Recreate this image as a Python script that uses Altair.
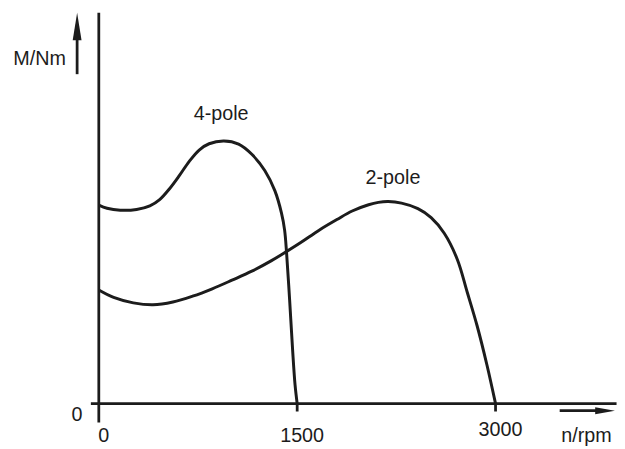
import altair as alt
import pandas as pd

# ---- data ----
rpm_4pole = [0, 62, 162, 286, 386, 460, 535, 610, 684, 759, 834, 946, 1057, 1157, 1256, 1331, 1381, 1405, 1420, 1443, 1465, 1484, 1500]
M_4pole = [50.8, 50.0, 49.5, 49.7, 50.6, 52.2, 55.0, 58.4, 62.0, 64.9, 66.5, 67.2, 66.4, 63.8, 59.6, 54.5, 48.8, 44.4, 38.5, 26.5, 14.0, 4.8, 0.0]

rpm_2pole = [0, 112, 261, 410, 560, 709, 858, 1007, 1157, 1306, 1418, 1530, 1666, 1800, 1916, 2040, 2114, 2189, 2289, 2413, 2513, 2612, 2711, 2786, 2860, 2935, 3000]
M_2pole = [29.1, 27.2, 25.8, 25.3, 26.0, 27.5, 29.4, 31.6, 33.9, 36.6, 38.9, 41.3, 44.4, 47.1, 49.3, 50.9, 51.5, 51.7, 51.3, 49.9, 47.6, 43.6, 36.9, 28.5, 20.0, 9.9, 0.0]

x_ticks = [0, 1500, 3000]
x_tick_labels = ["0", "1500", "3000"]
y_ticks = [0]
y_tick_labels = ["0"]

series_names = ["4-pole", "2-pole"]
series_label_rpm = [925, 2224]
series_label_M = [74.0, 57.6]

X_MAX = 3896
Y_MAX = 100
INK = "#1c1c1c"
FONT = "Liberation Sans"
FS = 20

curves = pd.concat([
    pd.DataFrame({"rpm": rpm_4pole, "M": M_4pole, "series": "4-pole"}),
    pd.DataFrame({"rpm": rpm_2pole, "M": M_2pole, "series": "2-pole"}),
])

xs = alt.Scale(domain=[0, X_MAX], nice=False, zero=False)
ys = alt.Scale(domain=[0, Y_MAX], nice=False, zero=False)

lines = alt.Chart(curves).mark_line(interpolate="catmull-rom", strokeWidth=3, color=INK).encode(
    x=alt.X("rpm:Q", scale=xs, axis=None),
    y=alt.Y("M:Q", scale=ys, axis=None),
    detail="series:N",
)

# axis lines (y-axis, x-axis), tick marks and arrow shafts
axes_df = pd.DataFrame({
    "x1": [0, -60, 1500, 3000, -164, 3485],
    "x2": [0, 3915, 1500, 3000, -164, 3769],
    "y1": [-4.8, 0, 0, 0, 84.3, -1.8],
    "y2": [Y_MAX, 0, -2.0, -2.0, 93.4, -1.8],
})
axes = alt.Chart(axes_df).mark_rule(strokeWidth=2.8, color=INK).encode(
    x=alt.X("x1:Q", scale=xs, axis=None),
    x2="x2:Q",
    y=alt.Y("y1:Q", scale=ys, axis=None),
    y2="y2:Q",
)

up_head = alt.Chart(pd.DataFrame({"x": [-164], "y": [96.5]})).mark_point(
    shape="M0,-1L0.32,1L-0.32,1Z", filled=True, size=784, color=INK, opacity=1, strokeWidth=0
).encode(x=alt.X("x:Q", scale=xs, axis=None), y=alt.Y("y:Q", scale=ys, axis=None))

right_head = alt.Chart(pd.DataFrame({"x": [3828], "y": [-1.8]})).mark_point(
    shape="M1,0L-1,-0.35L-1,0.35Z", filled=True, size=400, color=INK, opacity=1, strokeWidth=0
).encode(x=alt.X("x:Q", scale=xs, axis=None), y=alt.Y("y:Q", scale=ys, axis=None))

xlab = alt.Chart(pd.DataFrame({"v": x_ticks, "t": x_tick_labels, "y": [-8.3, -8.3, -6.8]})).mark_text(
    font=FONT, fontSize=FS, color=INK, dx=5, align="center", baseline="middle"
).encode(x=alt.X("v:Q", scale=xs, axis=None), y=alt.Y("y:Q", scale=ys, axis=None), text="t:N")

ylab = alt.Chart(pd.DataFrame({"v": y_ticks, "t": y_tick_labels})).mark_text(
    font=FONT, fontSize=FS, color=INK, align="center", baseline="middle", dx=-22, dy=12
).encode(x=alt.value(0), y=alt.Y("v:Q", scale=ys, axis=None), text="t:N")

titles = alt.Chart(pd.DataFrame({
    "x": [-448, 3687], "y": [88.1, -8.3], "t": ["M/Nm", "n/rpm"]
})).mark_text(font=FONT, fontSize=FS, color=INK, align="center", baseline="middle").encode(
    x=alt.X("x:Q", scale=xs, axis=None), y=alt.Y("y:Q", scale=ys, axis=None), text="t:N"
)

names = alt.Chart(pd.DataFrame({
    "x": series_label_rpm, "y": series_label_M, "t": series_names
})).mark_text(font=FONT, fontSize=FS, color=INK, align="center", baseline="middle").encode(
    x=alt.X("x:Q", scale=xs, axis=None), y=alt.Y("y:Q", scale=ys, axis=None), text="t:N"
)

chart = alt.layer(axes, up_head, right_head, lines, xlab, ylab, titles, names).properties(
    width=522,
    height=396,
    padding={"left": 92, "top": 2, "right": 3, "bottom": 40},
    autosize=alt.AutoSizeParams(type="none"),
    background="white",
).configure_view(stroke=None)

chart.save("out.html", embed_options={"renderer": "svg", "actions": False})
